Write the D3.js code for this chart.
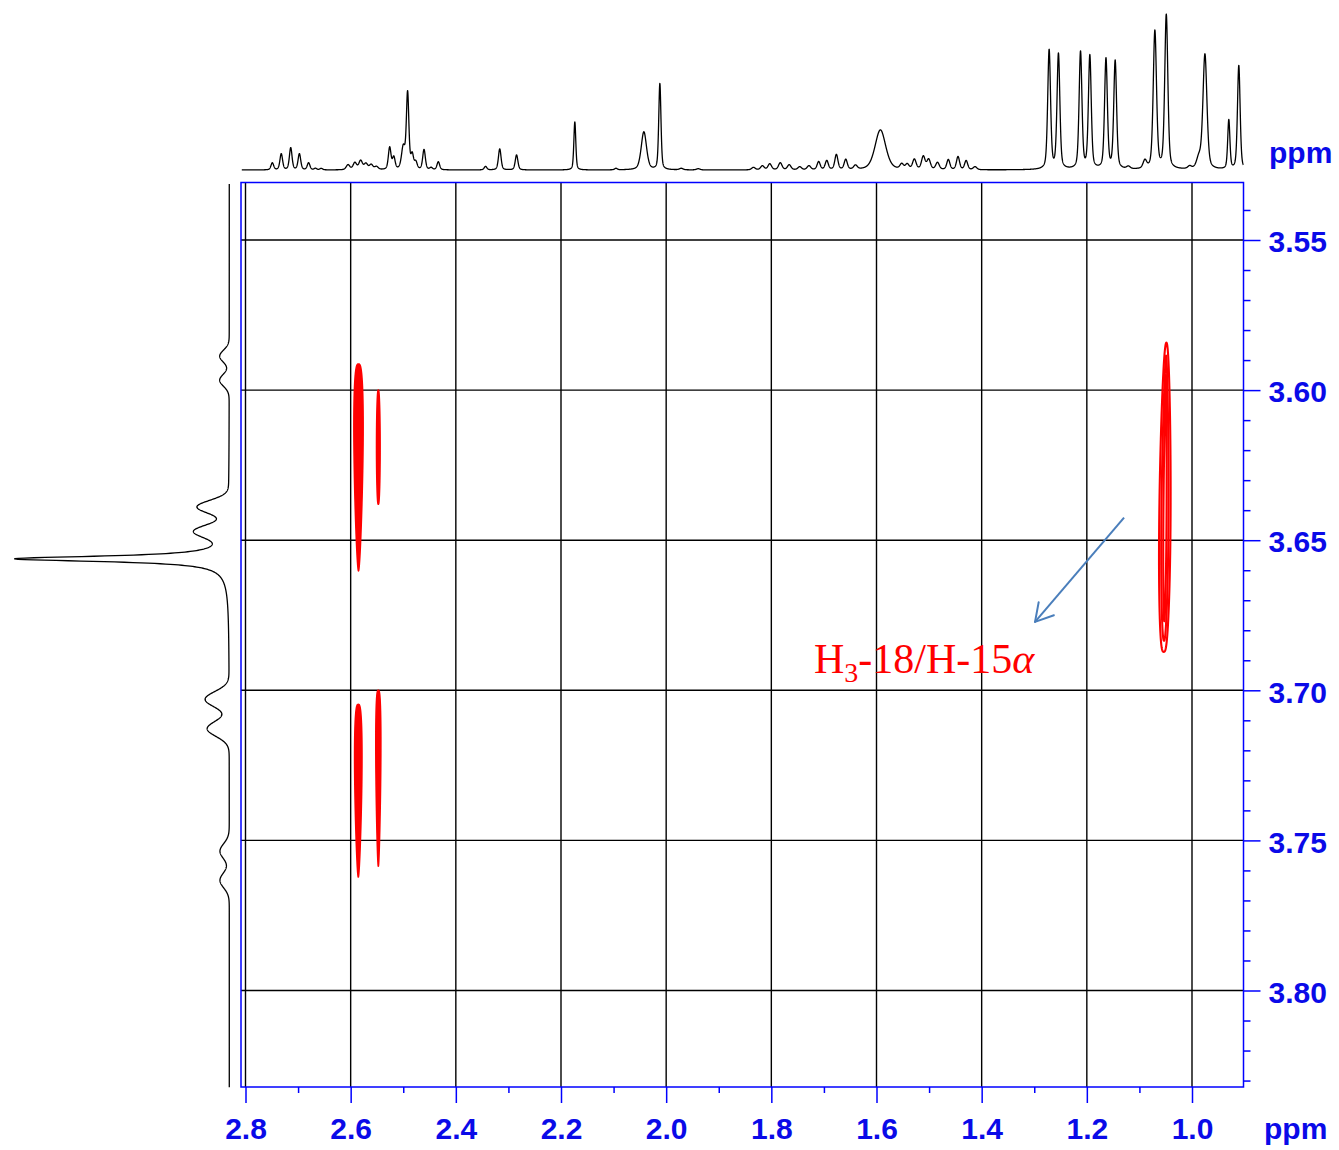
<!DOCTYPE html>
<html><head><meta charset="utf-8">
<script src="https://cdn.jsdelivr.net/npm/d3@7"></script>
<style>body{margin:0;background:#fff}svg{display:block}</style>
</head><body>
<svg id="chart" width="1339" height="1150"></svg>
<script>
// ---------- data ----------
const f2MajorTicks = [2.8, 2.6, 2.4, 2.2, 2.0, 1.8, 1.6, 1.4, 1.2, 1.0];
const f2TickLabels = ["2.8", "2.6", "2.4", "2.2", "2.0", "1.8", "1.6", "1.4", "1.2", "1.0"];
const f2MinorTicks = [2.7, 2.5, 2.3, 2.1, 1.9, 1.7, 1.5, 1.3, 1.1];
const f1MajorTicks = [3.55, 3.60, 3.65, 3.70, 3.75, 3.80];
const f1TickLabels = ["3.55", "3.60", "3.65", "3.70", "3.75", "3.80"];
const f1MinorTicks = [3.54, 3.56, 3.57, 3.58, 3.59, 3.61, 3.62, 3.63, 3.64, 3.66, 3.67, 3.68, 3.69,
                      3.71, 3.72, 3.73, 3.74, 3.76, 3.77, 3.78, 3.79, 3.81, 3.82, 3.83];
const axisUnit = "ppm";

// top (F2) 1D spectrum: [ppm, height, half-width ppm]
const topPeaks = [
  [2.749, 7, 0.003], [2.732, 16, 0.003], [2.714, 22, 0.003], [2.6975, 16, 0.003], [2.680, 7, 0.003],
  [2.667, 1.5, 0.003], [2.656, 1.5, 0.003],
  [2.605, 5, 0.004], [2.592, 7, 0.004], [2.581, 9, 0.004], [2.571, 6, 0.004], [2.561, 5, 0.004], [2.551, 3, 0.004],
  [2.5258, 22, 0.003], [2.518, 12, 0.003], [2.4999, 22, 0.004], [2.4917, 76, 0.0028], [2.483, 14, 0.003],
  [2.4761, 7, 0.003], [2.4605, 20, 0.003], [2.447, 2, 0.003], [2.4333, 8, 0.003],
  [2.3435, 3.5, 0.003], [2.3165, 21, 0.003], [2.2845, 15, 0.003], [2.1737, 48, 0.0022],
  [2.0955, 1.5, 0.003], [2.0424, 38, 0.006], [2.012, 86, 0.0025], [1.9713, 1.5, 0.004], [1.939, 1.2, 0.004],
  [1.834, 2.5, 0.004], [1.817, 4, 0.004], [1.803, 6, 0.004], [1.783, 7, 0.004], [1.766, 5, 0.004],
  [1.746, 3, 0.004], [1.7285, 4, 0.004], [1.710, 8, 0.0035], [1.6946, 9, 0.0035], [1.6763, 15, 0.0035],
  [1.6585, 10, 0.0035], [1.640, 4, 0.004], [1.5926, 40, 0.012],
  [1.552, 5, 0.004], [1.5416, 5, 0.004], [1.528, 10, 0.004], [1.511, 13, 0.004], [1.5008, 10, 0.004],
  [1.484, 7, 0.004], [1.4634, 10, 0.0035], [1.445, 13, 0.0035], [1.4295, 9, 0.0035], [1.4126, 3, 0.004],
  [1.2717, 119, 0.0032], [1.254, 115, 0.0032], [1.212, 117, 0.0032], [1.1943, 113, 0.0032],
  [1.1636, 110, 0.0032], [1.1461, 108, 0.0032], [1.121, 2.5, 0.004], [1.0896, 8, 0.004],
  [1.0706, 138, 0.0037], [1.0489, 154, 0.0035], [1.0045, 2.5, 0.004], [0.987, 10, 0.005],
  [0.9754, 115, 0.0045], [0.930, 49, 0.0025], [0.911, 104, 0.003]
];

// left (F1) projection: [ppm, height, width ppm, shape]
const leftPeaks = [
  [3.5887, 9.5, 0.0020, "g"], [3.5967, 9.5, 0.0020, "g"],
  [3.6389, 31, 0.00215, "g"], [3.6470, 31.5, 0.00215, "g"],
  [3.6562, 211, 0.0011, "l"], [3.6562, 4, 0.0067, "l"],
  [3.7030, 24, 0.00255, "g"], [3.7128, 22, 0.00255, "g"],
  [3.7536, 9.3, 0.0025, "g"], [3.7633, 9.3, 0.0025, "g"]
];

// cross-peak contour levels
const crossPeaks = [
  {cx: 2.5851, top: 3.5913, bottom: 3.6602, hw: 0.0088, peakAt: 0.30, blunt: 0.6, tilt: 0, filled: true},
  {cx: 2.5474, top: 3.6000, bottom: 3.6380, hw: 0.0034, peakAt: 0.50, blunt: 0.4, tilt: 0, filled: true},
  {cx: 2.5855, top: 3.7047, bottom: 3.7622, hw: 0.0070, peakAt: 0.30, blunt: 0.6, tilt: 0, filled: true},
  {cx: 2.5474, top: 3.7000, bottom: 3.7586, hw: 0.0048, peakAt: 0.30, blunt: 0.6, tilt: 0, filled: true},
  {cx: 1.0512, top: 3.5842, bottom: 3.6872, hw: 0.0108, peakAt: 0.60, blunt: 0.35, tilt: 0.005, filled: false},
  {cx: 1.0512, top: 3.5885, bottom: 3.6835, hw: 0.0068, peakAt: 0.60, blunt: 0.45, tilt: 0.004, filled: false},
  {cx: 1.0512, top: 3.5950, bottom: 3.6770, hw: 0.0030, peakAt: 0.60, blunt: 0.5, tilt: 0.003, filled: false}
];

const annotation = {x: 1.7188, y: 3.6943, main: "H", sub: "3", rest: "-18/H-15", greek: "α"};
const arrow = {x1: 1.1292, y1: 3.6425, x2: 1.2985, y2: 3.6772};

// ---------- scales ----------
const svg = d3.select("#chart");
const x = d3.scaleLinear().domain([2.8, 1.0]).range([245.5, 1192]);
const y = d3.scaleLinear().domain([3.55, 3.80]).range([240, 990.5]);
const frameL = 241, frameR = 1243.5, frameT = 182.5, frameB = 1087;
const topY = d3.scaleLinear().domain([0, 160]).range([170, 10]);
const leftX = d3.scaleLinear().domain([0, 215]).range([229.3, 14.3]);

const blue = "#0000ff", labelBlue = "#0a0ae8";
const labelFont = "bold 30px 'Liberation Sans', Arial, sans-serif";

// ---------- grid ----------
const grid = svg.append("g").attr("stroke", "#000").attr("stroke-width", 1.4);
f2MajorTicks.forEach(v => grid.append("line").attr("x1", x(v)).attr("x2", x(v)).attr("y1", frameT).attr("y2", frameB));
f1MajorTicks.forEach(v => grid.append("line").attr("y1", y(v)).attr("y2", y(v)).attr("x1", frameL).attr("x2", frameR));

// ---------- cross peaks ----------
function contourPoints(c) {
  const a = Math.log(0.5) / Math.log(c.peakAt);
  const n = 90, pts = [];
  const sAt = i => (1 - Math.cos(Math.PI * i / n)) / 2;
  for (let i = 0; i <= n; i++) pts.push([sAt(i), 1]);
  for (let i = n - 1; i > 0; i--) pts.push([sAt(i), -1]);
  return pts.map(([s, side]) => {
    const hw = c.hw * Math.pow(Math.max(0, Math.sin(Math.PI * Math.pow(s, a))), c.blunt);
    const cx = c.cx + c.tilt * (s - 0.5);
    return [x(cx - side * hw), y(c.top + s * (c.bottom - c.top))];
  });
}
const closedLine = d3.line().curve(d3.curveLinearClosed);
svg.append("g").selectAll("path").data(crossPeaks).join("path")
  .attr("d", d => closedLine(contourPoints(d)))
  .attr("fill", d => d.filled ? "#ff0000" : "none")
  .attr("stroke", "#ff0000")
  .attr("stroke-width", d => d.filled ? 1.6 : 2.1)
  .attr("stroke-linejoin", "round");

// ---------- frame ----------
svg.append("rect").attr("x", frameL).attr("y", frameT)
  .attr("width", frameR - frameL).attr("height", frameB - frameT)
  .attr("fill", "none").attr("stroke", blue).attr("stroke-width", 1.5);

// ---------- axes ----------
const bottomAxis = d3.axisBottom(x).tickValues(f2MajorTicks).tickSize(16).tickPadding(14.5)
  .tickFormat((d, i) => f2TickLabels[i]);
const gb = svg.append("g").attr("transform", `translate(0,${frameB})`).call(bottomAxis);
const bottomMinor = d3.axisBottom(x).tickValues(f2MinorTicks).tickSize(6).tickFormat("");
const gbm = svg.append("g").attr("transform", `translate(0,${frameB})`).call(bottomMinor);

const rightAxis = d3.axisRight(y).tickValues(f1MajorTicks).tickSize(17).tickPadding(8)
  .tickFormat((d, i) => f1TickLabels[i]);
const gr = svg.append("g").attr("transform", `translate(${frameR},0)`).call(rightAxis);
const rightMinor = d3.axisRight(y).tickValues(f1MinorTicks).tickSize(7).tickFormat("");
const grm = svg.append("g").attr("transform", `translate(${frameR},0)`).call(rightMinor);

[gb, gbm, gr, grm].forEach(g => {
  g.select(".domain").remove();
  g.selectAll(".tick line").attr("stroke", blue).attr("stroke-width", 1.5);
  g.selectAll(".tick text").attr("fill", labelBlue).style("font", labelFont);
});
gr.selectAll(".tick text").attr("dy", "0.39em");

svg.append("text").attr("x", 1269).attr("y", 163).attr("fill", labelBlue).style("font", labelFont).text(axisUnit);
svg.append("text").attr("x", 1264).attr("y", 1139).attr("fill", labelBlue).style("font", labelFont).text(axisUnit);

// ---------- 1D spectra ----------
function pv(d, w) { const u = (d / w) * (d / w); return 0.4 / (1 + u) + 0.6 * Math.exp(-Math.LN2 * u); }
const topStart = x.invert(frameL + 0.8), topEnd = x.invert(frameR);
const topPts = d3.range(topStart, topEnd, -0.0002).map(p => {
  let s = 0;
  for (const [c, h, w] of topPeaks) { const d = p - c; if (Math.abs(d) < 0.3) s += h * pv(d, w); }
  return [x(p), topY(s)];
});
svg.append("path").attr("d", d3.line()(topPts)).attr("fill", "none")
  .attr("stroke", "#000").attr("stroke-width", 1.3).attr("stroke-linejoin", "round");

const leftStart = y.invert(184), leftEnd = y.invert(frameB + 0.5);
const leftPts = d3.range(leftStart, leftEnd, 0.0001).map(p => {
  let s = 0;
  for (const [c, h, w, t] of leftPeaks) {
    const d = p - c;
    s += t === "g" ? h * Math.exp(-d * d / (2 * w * w)) : h / (1 + (d / w) * (d / w));
  }
  return [leftX(s), y(p)];
});
svg.append("path").attr("d", d3.line()(leftPts)).attr("fill", "none")
  .attr("stroke", "#000").attr("stroke-width", 1.3).attr("stroke-linejoin", "round");

// ---------- annotation ----------
const ax1 = x(arrow.x1), ay1 = y(arrow.y1), ax2 = x(arrow.x2), ay2 = y(arrow.y2);
const arrowColor = "#4a7ebb";
svg.append("line").attr("x1", ax1).attr("y1", ay1).attr("x2", ax2).attr("y2", ay2)
  .attr("stroke", arrowColor).attr("stroke-width", 2);
const ang = Math.atan2(ay1 - ay2, ax1 - ax2);
[-Math.PI / 6, Math.PI / 6].forEach(da => {
  svg.append("line").attr("x1", ax2).attr("y1", ay2)
    .attr("x2", ax2 + 20 * Math.cos(ang + da)).attr("y2", ay2 + 20 * Math.sin(ang + da))
    .attr("stroke", arrowColor).attr("stroke-width", 2).attr("stroke-linecap", "round");
});

const t = svg.append("text").attr("x", x(annotation.x)).attr("y", y(annotation.y))
  .attr("fill", "#ff0000").style("font-family", "'Liberation Serif', 'Times New Roman', serif")
  .style("font-size", "42px");
t.append("tspan").text(annotation.main);
t.append("tspan").attr("dy", 9.3).style("font-size", "28px").text(annotation.sub);
t.append("tspan").attr("dy", -9.3).text(annotation.rest);
t.append("tspan").style("font-style", "italic").text(annotation.greek);
</script>
</body></html>
